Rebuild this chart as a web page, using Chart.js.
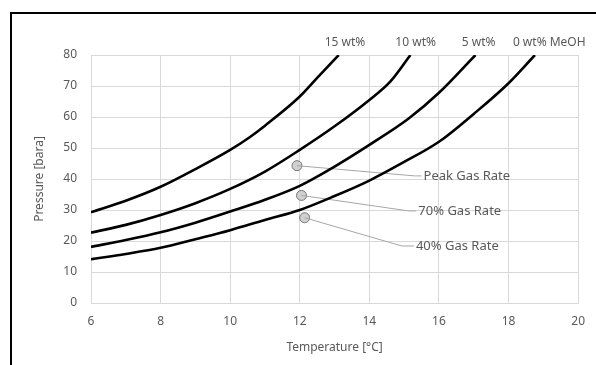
<!DOCTYPE html>
<html lang="en">
<head>
  <meta charset="UTF-8">
  <script src="https://cdn.jsdelivr.net/npm/chart.js@4.4.1/dist/chart.umd.min.js"></script>
  <style>
    html, body { margin: 0; padding: 0; background: #fff; }
    #wrap { position: relative; width: 596px; height: 365px; overflow: hidden; }
    #frame { position: absolute; left: 10px; top: 12px; width: 700px; height: 500px;
      border-top: 2px solid #000; border-left: 2px solid #000; }
    canvas { position: absolute; left: 0; top: 0; }
  </style>
  <title>Hydrate curves</title>
</head>
<body>
  <div id="wrap">
    <div id="frame"></div>
    <canvas id="chart" width="596" height="365"></canvas>
  </div>
  <script>
    // hydrate curves, temperature [C] vs pressure [bara]
    const curveNames = ['15 wt%', '10 wt%', '5 wt%', '0 wt% MeOH'];
    const curve15 = [[6, 29.3], [7, 33], [8, 37.5], [9, 43.2], [10, 49.4], [10.55, 53.4], [11, 57.2], [12, 66.6], [12.5, 72.6], [13.12, 80]];
    const curve10 = [[6, 22.7], [7, 25.2], [8, 28.4], [9, 32.2], [10, 36.8], [11, 42.4], [12, 49.4], [13, 57], [14, 65.5], [14.6, 71.4], [15.18, 80]];
    const curve5 = [[6, 18.1], [7, 20.3], [8, 22.8], [9, 25.9], [10, 29.5], [11, 33.3], [12, 37.8], [13, 44], [14, 51], [15.13, 59.5], [16, 67.8], [17.05, 80]];
    const curve0 = [[6, 14.1], [7, 15.8], [8, 17.8], [9, 20.6], [10, 23.5], [11, 26.8], [12, 30], [13, 34.5], [14, 39.5], [15, 45.5], [16, 52], [17, 61], [18, 70.9], [18.76, 80]];
    // x position (centre) of the curve name above the plot
    const curveLabelX = [13.3, 15.33, 17.14, 19.17];

    // operating points
    const pointNames = ['Peak Gas Rate', '70% Gas Rate', '40% Gas Rate'];
    const pointT = [11.92, 12.05, 12.14];
    const pointP = [44.3, 34.7, 27.5];
    // leader line elbow and text anchor
    const elbowT = [15.3, 15.13, 14.93];
    const labelT = [15.5, 15.35, 15.28];
    const labelP = [41.0, 29.7, 18.4];

    const xTicks = [6, 8, 10, 12, 14, 16, 18, 20];
    const yTicks = [0, 10, 20, 30, 40, 50, 60, 70, 80];

    const grey = '#595959';
    const font = "'Noto Sans', sans-serif";

    function toXY(arr) { return arr.map(function (p) { return { x: p[0], y: p[1] } }) }

    const datasets = [];
    [curve15, curve10, curve5, curve0].forEach(function (c, i) {
      datasets.push({
        label: curveNames[i], data: toXY(c), borderColor: '#000', borderWidth: 2.6,
        pointRadius: 0, cubicInterpolationMode: 'monotone', fill: false
      });
    });
    pointNames.forEach(function (n, i) {
      datasets.push({
        label: n + ' leader',
        data: [{ x: pointT[i], y: pointP[i] }, { x: elbowT[i], y: labelP[i] }, { x: labelT[i], y: labelP[i] }],
        borderColor: '#a6a6a6', borderWidth: 1, pointRadius: 0, tension: 0
      });
    });
    datasets.push({
      label: 'points',
      data: pointT.map(function (t, i) { return { x: t, y: pointP[i] } }),
      showLine: false, pointRadius: 5, pointBackgroundColor: '#d0d0d0',
      pointBorderColor: '#767676', pointBorderWidth: 1
    });

    // write curve names and point labels as text
    const labelPlugin = {
      id: 'labels',
      afterDatasetsDraw: function (chart) {
        const ctx = chart.ctx, xs = chart.scales.x, ys = chart.scales.y;
        ctx.save();
        ctx.font = '12px ' + font;
        ctx.fillStyle = grey;
        ctx.textBaseline = 'middle';
        ctx.textAlign = 'center';
        curveNames.forEach(function (n, i) {
          ctx.fillText(n, xs.getPixelForValue(curveLabelX[i]), chart.chartArea.top - 12);
        });
        ctx.font = '13px ' + font;
        ctx.textAlign = 'left';
        pointNames.forEach(function (n, i) {
          ctx.fillText(n, xs.getPixelForValue(labelT[i]) + 2, ys.getPixelForValue(labelP[i]));
        });
        ctx.restore();
      }
    };

    new Chart(document.getElementById('chart'), {
      type: 'line',
      data: { datasets: datasets },
      plugins: [labelPlugin],
      options: {
        responsive: false,
        animation: false,
        layout: { padding: { top: 55, right: 14, left: 30, bottom: 0 } },
        plugins: { legend: { display: false }, tooltip: { enabled: false } },
        scales: {
          x: {
            type: 'linear', min: 6, max: 20,
            afterBuildTicks: function (s) { s.ticks = xTicks.map(function (v) { return { value: v } }) },
            afterFit: function (s) { s.height = 62 },
            grid: { color: '#d9d9d9', drawTicks: false },
            border: { color: '#d9d9d9' },
            ticks: { color: grey, font: { family: font, size: 12 }, padding: 11, maxRotation: 0 },
            title: { display: true, text: 'Temperature [°C]', color: grey, font: { family: font, size: 12 }, padding: { top: 4, bottom: 10 } }
          },
          y: {
            min: 0, max: 80,
            afterBuildTicks: function (s) { s.ticks = yTicks.map(function (v) { return { value: v } }) },
            afterFit: function (s) { s.width = 61 },
            grid: { color: '#d9d9d9', drawTicks: false },
            border: { color: '#d9d9d9' },
            ticks: { color: grey, font: { family: font, size: 12 }, padding: 14 },
            title: { display: true, text: 'Pressure [bara]', color: grey, font: { family: font, size: 12 }, padding: { top: 2, bottom: 4 } }
          }
        }
      }
    });
  </script>
</body>
</html>
